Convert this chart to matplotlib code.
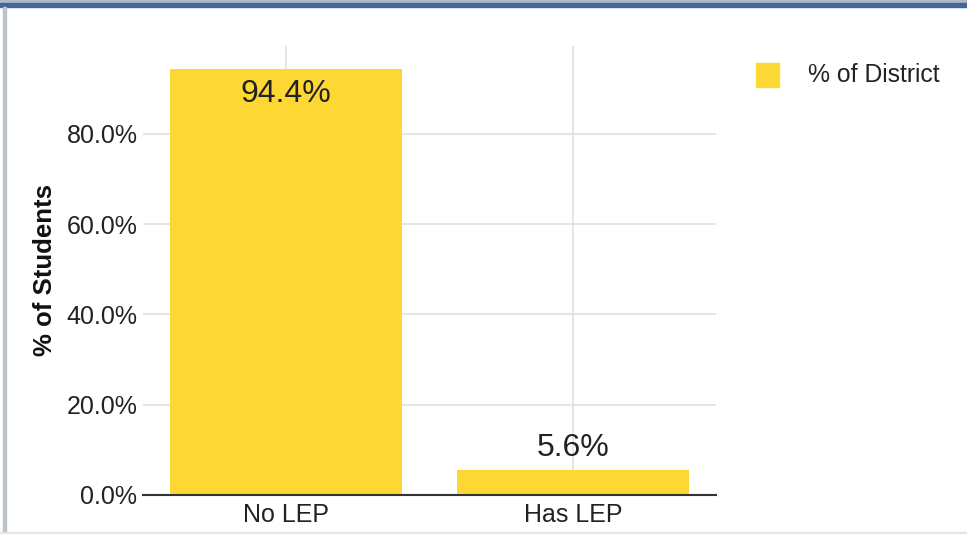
import matplotlib
matplotlib.use("Agg")
import matplotlib.pyplot as plt
from matplotlib.patches import Rectangle
from matplotlib.ticker import FuncFormatter

categories = ["No LEP", "Has LEP"]
values = [94.4, 5.6]
series_name = "% of District"
y_ticks = [0, 20, 40, 60, 80]
y_label = "% of Students"

plt.rcParams['font.family'] = ['Liberation Sans', 'DejaVu Sans']

W, H = 967, 534
fig = plt.figure(figsize=(W / 100, H / 100), dpi=100)
fig.patch.set_facecolor("white")

# frame decoration
fig.patches.append(Rectangle((0, 1 - 3 / H), 1, 3 / H, transform=fig.transFigure, color="#aebbc6", zorder=0))
fig.patches.append(Rectangle((0, 1 - 7 / H), 1, 4 / H, transform=fig.transFigure, color="#45659a", zorder=0))
fig.patches.append(Rectangle((3 / W, 0), 3 / W, 1 - 7 / H, transform=fig.transFigure, color="#b9c3cb", zorder=0))
fig.patches.append(Rectangle((0, 1 / H), 1, 1.5 / H, transform=fig.transFigure, color="#e4e4e4", zorder=0))

ax = fig.add_axes([143 / W, 39 / H, 573 / W, 449 / H])
x = list(range(len(categories)))
bar_color = "#fdd835"
bars = ax.bar(x, values, width=0.81, color=bar_color, zorder=2, label=series_name)

ax.set_xlim(-0.5, len(categories) - 0.5)
ax.set_ylim(0, 99.5)
ax.set_yticks(y_ticks)
ax.yaxis.set_major_formatter(FuncFormatter(lambda v, p: f"{v:.1f}%"))
ax.set_xticks(x)
ax.set_xticklabels(categories)

ax.grid(True, color="#e0e0e0", linewidth=1.2, zorder=0)
ax.set_axisbelow(True)
for s in ["top", "right", "left"]:
    ax.spines[s].set_visible(False)
ax.spines["bottom"].set_color("#333333")
ax.spines["bottom"].set_linewidth(1.5)
ax.spines["bottom"].set_zorder(3)
ax.tick_params(axis="both", length=0, labelsize=18, labelcolor="#222222")
ax.tick_params(axis="y", pad=4)
ax.tick_params(axis="x", pad=6)

ax.set_ylabel(y_label, fontsize=18.5, fontweight="bold", color="#111111", labelpad=7)

for xi, v in zip(x, values):
    if v > 85:
        ax.annotate(f"{v:.1f}%", (xi, v), xytext=(0, -7), textcoords="offset points",
                    ha="center", va="top", fontsize=23, color="#222222", zorder=4)
    else:
        ax.annotate(f"{v:.1f}%", (xi, v), xytext=(0, 5), textcoords="offset points",
                    ha="center", va="bottom", fontsize=23, color="#222222", zorder=4)

# legend
fig.patches.append(Rectangle((756 / W, 1 - 87 / H), 23 / W, 24 / H, transform=fig.transFigure,
                             color=bar_color, zorder=3))
fig.text(808 / W, 1 - 75 / H, series_name, ha="left", va="center", fontsize=17.8, color="#222222")

fig.savefig("out.png", dpi=100, facecolor="white")
